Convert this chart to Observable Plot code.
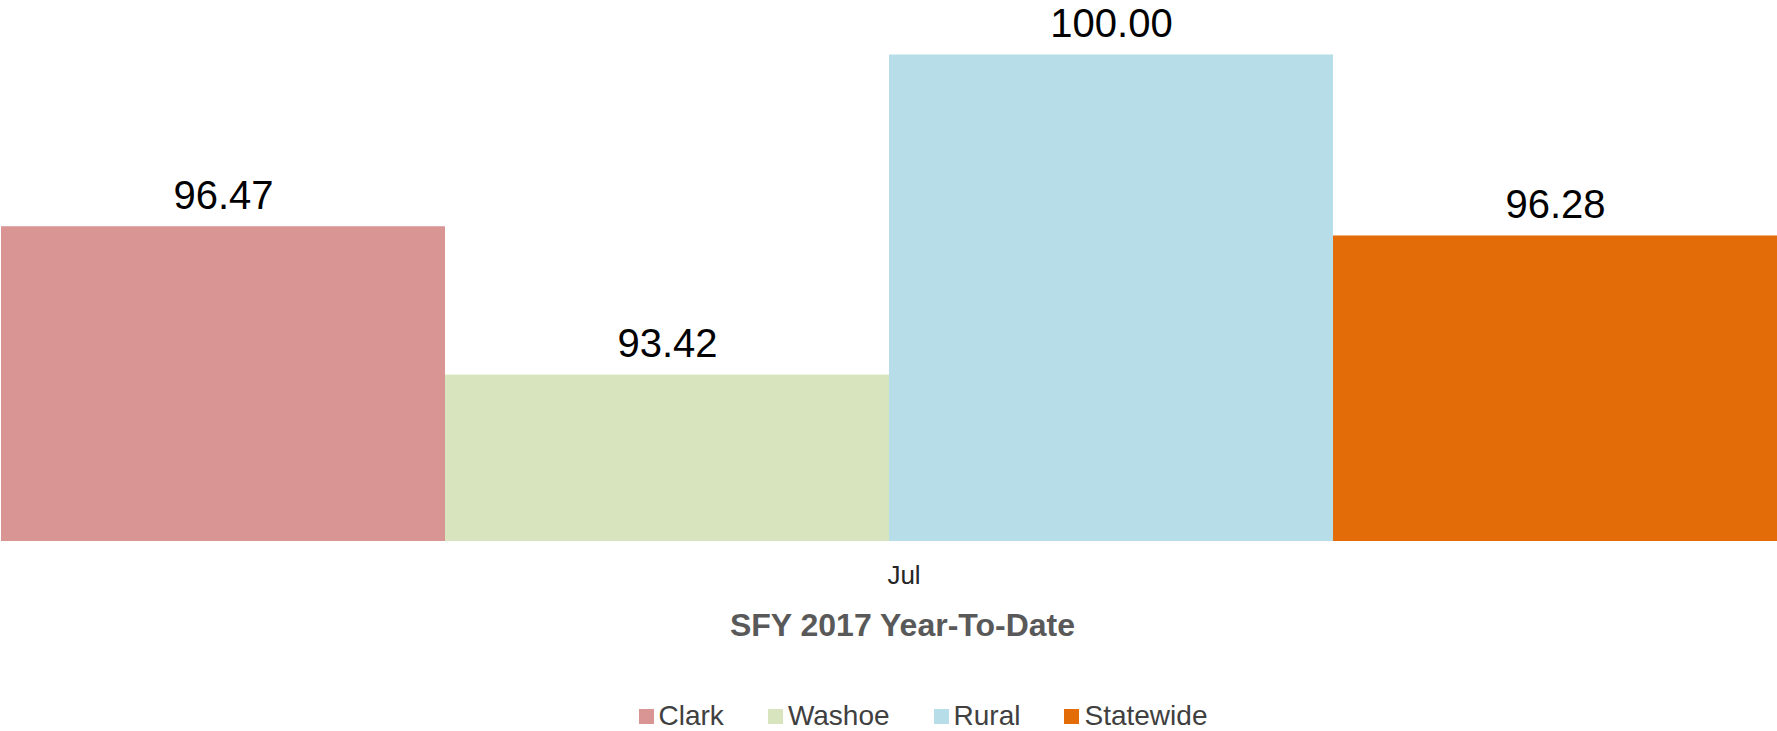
<!DOCTYPE html>
<html>
<head>
<meta charset="utf-8">
<script src="https://cdn.jsdelivr.net/npm/d3@7"></script>
<script src="https://cdn.jsdelivr.net/npm/@observablehq/plot@0.6"></script>
<style>
  html, body { margin: 0; padding: 0; background: #fff; }
  body { width: 1777px; height: 731px; overflow: hidden; font-family: "Liberation Sans", Arial, sans-serif; }
  #title { height: 40px; line-height: 40px; margin-top: 5px; text-align: center; font-weight: bold; font-size: 32px; color: #595959; padding-left: 28px; }
  #legend { margin-top: 56px; display: flex; justify-content: center; align-items: center; gap: 44px; font-size: 28px; color: #404040; height: 30px; padding-left: 69px; }
  .item { display: flex; align-items: center; gap: 5px; }
  .sw { width: 15px; height: 15px; display: inline-block; }
</style>
</head>
<body>
<div id="chart"></div>
<div id="title">SFY 2017 Year-To-Date</div>
<div id="legend"></div>
<script>
const months = ["Jul"];
const series = ["Clark", "Washoe", "Rural", "Statewide"];
const values = [96.47, 93.42, 100.00, 96.28];
const colors = ["#D99594", "#D7E4BD", "#B7DDE8", "#E36C09"];
const titleText = "SFY 2017 Year-To-Date";

const data = series.map((s, i) => ({month: months[0], series: s, value: values[i]}));

const chart = Plot.plot({
  width: 1777,
  height: 600,
  marginTop: 0,
  marginBottom: 59,
  marginLeft: 0,
  marginRight: 0,
  style: {fontFamily: "Liberation Sans, Arial, sans-serif", background: "#fff"},
  fx: {domain: months, padding: 0, label: null, axis: null},
  x: {domain: series, padding: 0, axis: null},
  y: {domain: [90, 101.12], axis: null},
  color: {domain: series, range: colors},
  marks: [
    Plot.barY(data, {fx: "month", x: "series", y1: 90, y2: "value", fill: "series"}),
    Plot.text(data, {fx: "month", x: "series", y: "value", text: d => d.value.toFixed(2), dy: -31, fontSize: 40, fill: "#000"}),
    Plot.axisFx({domain: months, anchor: "bottom", tickSize: 0, tickPadding: 24, fontSize: 26, dx: 15, color: "#262626", label: null})
  ]
});
document.getElementById("chart").appendChild(chart);
document.getElementById("title").textContent = titleText;

const legend = document.getElementById("legend");
series.forEach((s, i) => {
  const item = document.createElement("div");
  item.className = "item";
  const sw = document.createElement("span");
  sw.className = "sw";
  sw.style.background = colors[i];
  const t = document.createElement("span");
  t.textContent = s;
  item.appendChild(sw);
  item.appendChild(t);
  legend.appendChild(item);
});
</script>
</body>
</html>
